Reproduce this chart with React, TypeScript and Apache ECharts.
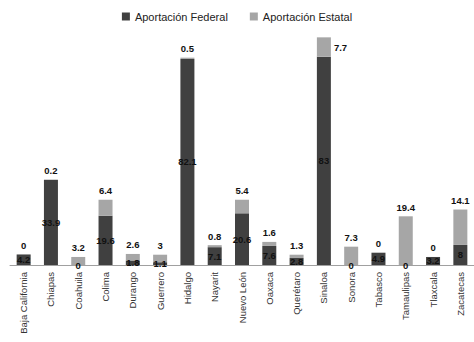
import React, { useEffect, useRef } from "react";
import * as echarts from "echarts";

const categories = [
  "Baja California", "Chiapas", "Coahuila", "Colima", "Durango", "Guerrero",
  "Hidalgo", "Nayarit", "Nuevo León", "Oaxaca", "Querétaro", "Sinaloa",
  "Sonora", "Tabasco", "Tamaulipas", "Tlaxcala", "Zacatecas",
];
const federal = [4.2, 33.9, 0, 19.6, 1.8, 1.1, 82.1, 7.1, 20.6, 7.6, 2.8, 83, 0, 4.9, 0, 3.2, 8];
const estatal = [0, 0.2, 3.2, 6.4, 2.6, 3, 0.5, 0.8, 5.4, 1.6, 1.3, 7.7, 7.3, 0, 19.4, 0, 14.1];
const rightLabelIndex = 11;

const FONT = "Liberation Sans";

export default function App() {
  const ref = useRef<HTMLDivElement>(null);
  useEffect(() => {
    if (!ref.current) return;
    const chart = echarts.init(ref.current, null, { renderer: "svg" });
    const labelStyle = {
      show: true,
      fontSize: 9.5,
      fontWeight: "bold" as const,
      color: "#111",
      textBorderWidth: 0,
      fontFamily: FONT,
    };
    chart.setOption({
      animation: false,
      backgroundColor: "#fff",
      textStyle: { fontFamily: FONT },
      legend: {
        top: 6,
        left: "center",
        itemWidth: 8,
        itemHeight: 8,
        itemGap: 22,
        icon: "rect",
        textStyle: { fontSize: 11, color: "#222", fontFamily: FONT },
        data: ["Aportación Federal", "Aportación Estatal"],
      },
      grid: { left: 10, width: 464, top: 14, bottom: 77, containLabel: false },
      xAxis: {
        type: "category",
        data: categories,
        axisLine: { lineStyle: { color: "#a0a0a0", width: 1 } },
        axisTick: { show: false },
        axisLabel: {
          rotate: 90,
          interval: 0,
          fontSize: 9.5,
          color: "#333",
          margin: 7,
          fontFamily: FONT,
        },
      },
      yAxis: {
        type: "value",
        min: 0,
        max: 100,
        show: false,
        splitLine: { show: false },
      },
      series: [
        {
          name: "Aportación Federal",
          type: "bar",
          stack: "total",
          barWidth: 14,
          itemStyle: { color: "#404040" },
          label: { ...labelStyle, position: "inside" },
          data: federal,
        },
        {
          name: "Aportación Estatal",
          type: "bar",
          stack: "total",
          barWidth: 14,
          itemStyle: { color: "#a6a6a6" },
          label: { ...labelStyle, position: "top", distance: 4 },
          data: estatal.map((v, i) =>
            i === rightLabelIndex ? { value: v, label: { position: "right", distance: 3 } } : v
          ),
        },
      ],
    });
    return () => chart.dispose();
  }, []);
  return (
    <div
      ref={ref}
      style={{ position: "absolute", left: 0, top: 0, width: 474, height: 342 }}
    />
  );
}
